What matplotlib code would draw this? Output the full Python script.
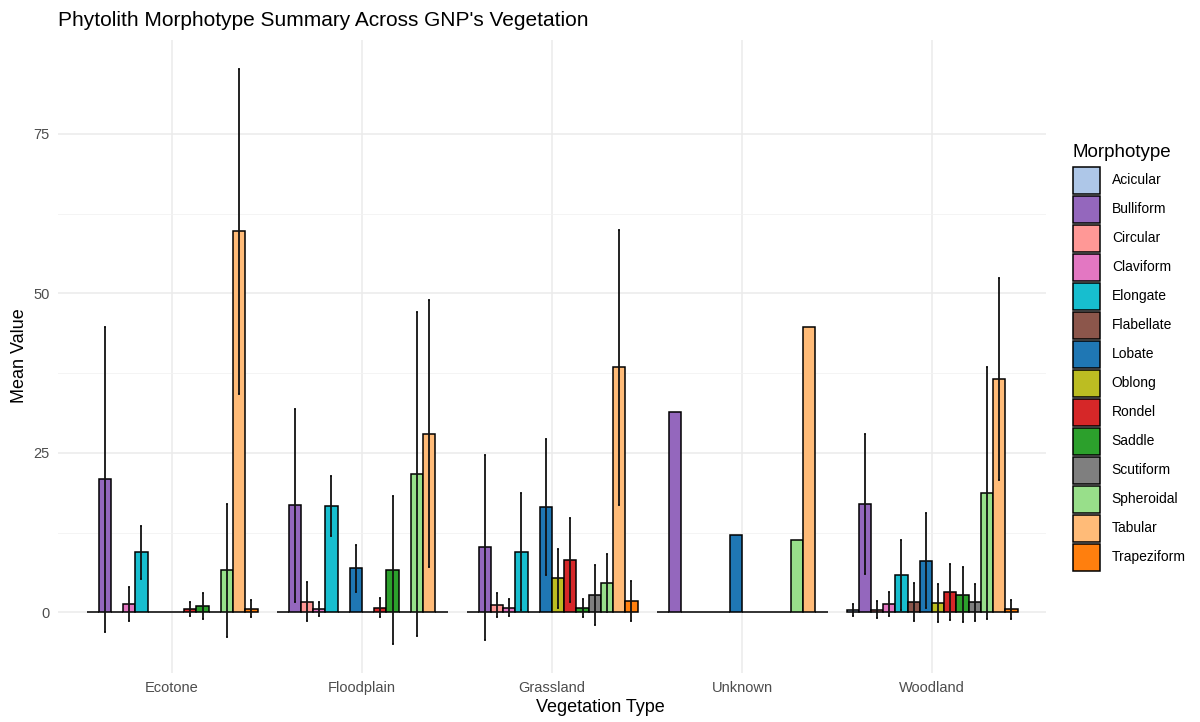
import numpy as np
from matplotlib import pyplot as plt
from matplotlib.patches import Patch

nan = np.nan

vegetation = ["Ecotone", "Floodplain", "Grassland", "Unknown", "Woodland"]
morphotypes = ["Acicular", "Bulliform", "Circular", "Claviform", "Elongate", "Flabellate",
               "Lobate", "Oblong", "Rondel", "Saddle", "Scutiform", "Spheroidal",
               "Tabular", "Trapeziform"]
colors = ["#aec7e8", "#9467bd", "#ff9896", "#e377c2", "#17becf", "#8c564b", "#1f77b4",
          "#bcbd22", "#d62728", "#2ca02c", "#7f7f7f", "#98df8a", "#ffbb78", "#ff7f0e"]

# mean values, one list per vegetation type (order = morphotypes)
ecotone_mean    = [0, 20.9, 0, 1.3, 9.4, 0, 0, 0, 0.5, 1.0, 0, 6.6, 59.7, 0.6]
floodplain_mean = [0, 16.8, 1.7, 0.5, 16.6, 0, 6.9, 0, 0.75, 6.6, 0, 21.7, 28.0, 0]
grassland_mean  = [0, 10.2, 1.1, 0.75, 9.5, 0, 16.5, 5.35, 8.2, 0.7, 2.7, 4.65, 38.4, 1.75]
unknown_mean    = [0, 31.4, 0, 0, 0, 0, 12.1, 0, 0, 0, 0, 11.3, 44.7, 0]
woodland_mean   = [0.4, 17.0, 0.45, 1.3, 5.85, 1.65, 8.1, 1.5, 3.2, 2.8, 1.6, 18.7, 36.6, 0.5]

# standard deviations (nan = no error bar)
ecotone_sd    = [nan, 23.9, nan, 2.6, 4.15, nan, nan, nan, 1.1, 2.0, nan, 10.4, 25.5, 1.3]
floodplain_sd = [nan, 15.15, 3.1, 1.1, 4.7, nan, 3.65, nan, 1.45, 11.6, nan, 25.4, 20.95, nan]
grassland_sd  = [nan, 14.5, 1.9, 1.35, 9.2, nan, 10.65, 4.65, 6.6, 1.4, 4.7, 4.55, 21.6, 3.15]
unknown_sd    = [nan] * 14
woodland_sd   = [0.9, 11.0, 1.35, 1.9, 5.45, 3.0, 7.4, 2.95, 4.4, 4.35, 2.9, 19.7, 15.8, 1.5]

means = [ecotone_mean, floodplain_mean, grassland_mean, unknown_mean, woodland_mean]
sds = [ecotone_sd, floodplain_sd, grassland_sd, unknown_sd, woodland_sd]

plt.rcParams['font.family'] = ['Liberation Sans', 'DejaVu Sans']

fig = plt.figure(figsize=(12, 7.22), dpi=100)
ax = fig.add_axes([58/1200, 1-673/722, (1046-58)/1200, (673-40)/722])

n = len(morphotypes)
w = 0.9 / n
for g in range(len(vegetation)):
    for j in range(n):
        x = g + 1 - 0.45 + (j + 0.5) * w
        ax.bar(x, means[g][j], width=w, color=colors[j], edgecolor='black',
               linewidth=1.1, zorder=3)
for g in range(len(vegetation)):
    for j in range(n):
        if not np.isnan(sds[g][j]):
            x = g + 1 - 0.45 + (j + 0.5) * w
            ax.errorbar(x, means[g][j], yerr=sds[g][j], color='#111111', elinewidth=1.3,
                        capsize=1, capthick=1.3, zorder=4)

ax.set_xlim(0.4, 5.6)
ax.set_ylim(-9.5, 89.7)
ax.set_xticks(range(1, 6))
ax.set_xticklabels(vegetation)
ax.set_yticks([0, 25, 50, 75])
ax.set_yticks([12.5, 37.5, 62.5], minor=True)
ax.grid(True, which='major', color='#ebebeb', linewidth=1.1, zorder=0)
ax.grid(True, which='minor', axis='y', color='#f2f2f2', linewidth=0.6, zorder=0)
ax.set_axisbelow(True)
for s in ax.spines.values():
    s.set_visible(False)
ax.tick_params(which='both', length=0, labelsize=10.5, labelcolor='#4d4d4d', pad=6)

fig.text(600/1200, 1-707/722, "Vegetation Type", ha='center', va='center', fontsize=13)
fig.text(20/1200, 1-356/722, "Mean Value", ha='center', va='center', rotation=90, fontsize=13)
fig.text(58/1200, 1-20/722, "Phytolith Morphotype Summary Across GNP's Vegetation",
         ha='left', va='center', fontsize=15)

handles = [Patch(facecolor=c, edgecolor='black', linewidth=1.1) for c in colors]
leg = fig.legend(handles, morphotypes, title="Morphotype", loc='upper left',
                 bbox_to_anchor=(1073/1200, 1-144/722), frameon=False, fontsize=10,
                 title_fontsize=13.5, handlelength=1.944, handleheight=2.614,
                 labelspacing=0.144, handletextpad=0.85, borderpad=0, borderaxespad=0)
leg._legend_box.align = 'left'
leg._legend_box.sep = 4

fig.savefig('out.png', dpi=100)
